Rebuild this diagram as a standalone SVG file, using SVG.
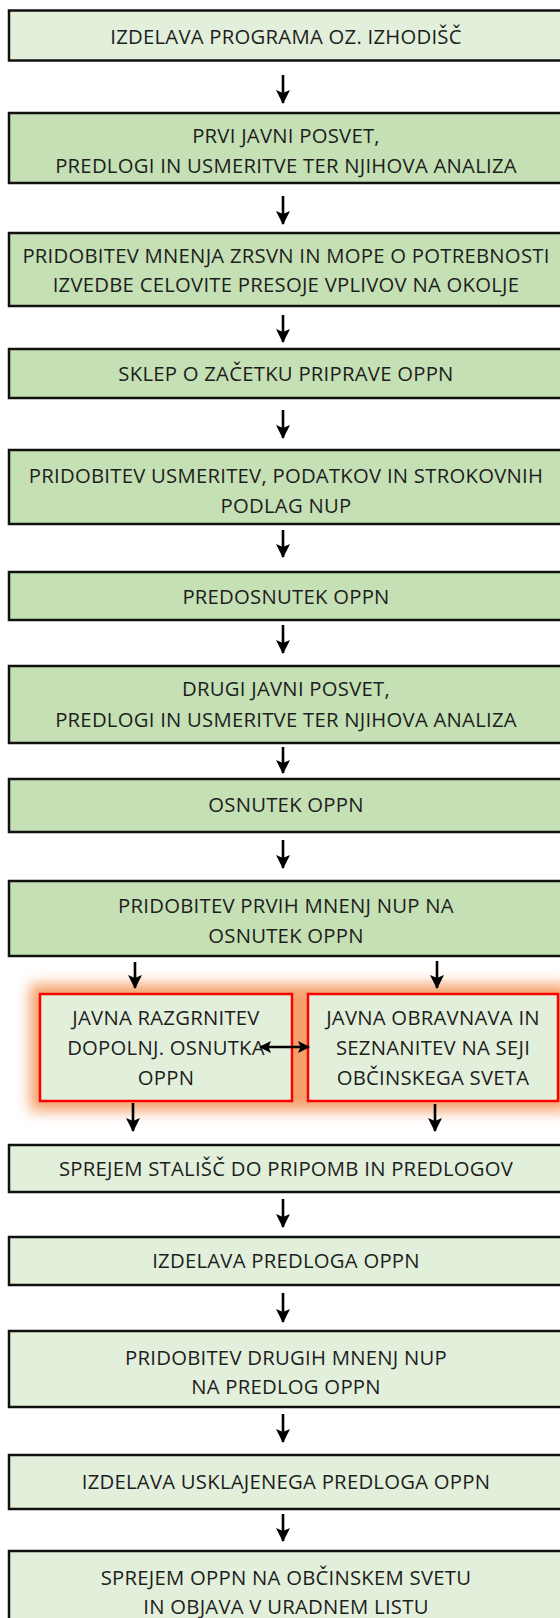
<svg xmlns="http://www.w3.org/2000/svg" width="560" height="1618" viewBox="0 0 560 1618">
<style>
.box{stroke:#111;stroke-width:2.5}
.lt{fill:#e2efda}
.dk{fill:#c5e0b4}
.red{fill:#e2efda;stroke:#ff0000;stroke-width:2.5}
text{font-family:"Open Sans","Noto Sans",sans-serif;font-size:20.3px;letter-spacing:0.25px;fill:#1e1e1e;text-anchor:middle;dominant-baseline:central}
.ar{stroke:#000;stroke-width:2.6;fill:none}
.ar2{stroke:#000;stroke-width:2.6;fill:none}
</style>
<defs>
<marker id="ah" viewBox="0 0 14 14" refX="13" refY="7" markerWidth="14" markerHeight="14" orient="auto-start-reverse" markerUnits="userSpaceOnUse">
<path d="M0,0 L14,7 L0,14 L3,7 Z" fill="#000"/>
</marker>
<marker id="ah2" viewBox="0 0 12 12" refX="11" refY="6" markerWidth="13" markerHeight="12" orient="auto-start-reverse" markerUnits="userSpaceOnUse">
<path d="M0,0 L12,6 L0,12 L2.5,6 Z" fill="#000"/>
</marker>
<filter id="glow" x="-30%" y="-60%" width="160%" height="220%">
<feGaussianBlur stdDeviation="7"/>
</filter>
</defs>
<rect width="560" height="1618" fill="#fff"/>
<g id="glowbg" filter="url(#glow)">
<rect x="30" y="984" width="272" height="127" fill="#f4a06a"/>
<rect x="298" y="984" width="272" height="127" fill="#f4a06a"/>
</g>
<g id="n1"><rect class="box lt" x="9" y="10.5" width="556" height="50"/><text x="286" y="36">IZDELAVA PROGRAMA OZ. IZHODIŠČ</text></g>
<g id="n2"><rect class="box dk" x="9" y="113" width="556" height="70"/><text x="286" y="135">PRVI JAVNI POSVET,</text><text x="286" y="165">PREDLOGI IN USMERITVE TER NJIHOVA ANALIZA</text></g>
<g id="n3"><rect class="box dk" x="9" y="233" width="556" height="73"/><text x="286" y="255">PRIDOBITEV MNENJA ZRSVN IN MOPE O POTREBNOSTI</text><text x="286" y="284">IZVEDBE CELOVITE PRESOJE VPLIVOV NA OKOLJE</text></g>
<g id="n4"><rect class="box dk" x="9" y="349" width="556" height="49"/><text x="286" y="373">SKLEP O ZAČETKU PRIPRAVE OPPN</text></g>
<g id="n5"><rect class="box dk" x="9" y="450" width="556" height="74"/><text x="286" y="475">PRIDOBITEV USMERITEV, PODATKOV IN STROKOVNIH</text><text x="286" y="505">PODLAG NUP</text></g>
<g id="n6"><rect class="box dk" x="9" y="572" width="556" height="48"/><text x="286" y="596">PREDOSNUTEK OPPN</text></g>
<g id="n7"><rect class="box dk" x="9" y="666" width="556" height="77"/><text x="286" y="688">DRUGI JAVNI POSVET,</text><text x="286" y="719">PREDLOGI IN USMERITVE TER NJIHOVA ANALIZA</text></g>
<g id="n8"><rect class="box dk" x="9" y="779" width="556" height="53"/><text x="286" y="804">OSNUTEK OPPN</text></g>
<g id="n9"><rect class="box dk" x="9" y="881" width="556" height="75"/><text x="286" y="905">PRIDOBITEV PRVIH MNENJ NUP NA</text><text x="286" y="935">OSNUTEK OPPN</text></g>
<g id="n10"><rect class="red" x="40" y="994" width="252" height="107"/><text x="166" y="1017">JAVNA RAZGRNITEV</text><text x="166" y="1047">DOPOLNJ. OSNUTKA</text><text x="166" y="1077">OPPN</text></g>
<g id="n11"><rect class="red" x="308" y="994" width="250" height="107"/><text x="433" y="1017">JAVNA OBRAVNAVA IN</text><text x="433" y="1047">SEZNANITEV NA SEJI</text><text x="433" y="1077">OBČINSKEGA SVETA</text></g>
<g id="n12"><rect class="box lt" x="9" y="1145" width="556" height="47"/><text x="286" y="1168">SPREJEM STALIŠČ DO PRIPOMB IN PREDLOGOV</text></g>
<g id="n13"><rect class="box lt" x="9" y="1237" width="556" height="48"/><text x="286" y="1260">IZDELAVA PREDLOGA OPPN</text></g>
<g id="n14"><rect class="box lt" x="9" y="1331" width="556" height="76"/><text x="286" y="1357">PRIDOBITEV DRUGIH MNENJ NUP</text><text x="286" y="1386">NA PREDLOG OPPN</text></g>
<g id="n15"><rect class="box lt" x="9" y="1455" width="556" height="54"/><text x="286" y="1481">IZDELAVA USKLAJENEGA PREDLOGA OPPN</text></g>
<g id="n16"><rect class="box lt" x="9" y="1551" width="556" height="80"/><text x="286" y="1577">SPREJEM OPPN NA OBČINSKEM SVETU</text><text x="286" y="1606">IN OBJAVA V URADNEM LISTU</text></g>
<g id="connectors">
<line class="ar" x1="283" y1="75" x2="283" y2="103" marker-end="url(#ah)"/>
<line class="ar" x1="283" y1="196" x2="283" y2="224" marker-end="url(#ah)"/>
<line class="ar" x1="283" y1="315" x2="283" y2="342" marker-end="url(#ah)"/>
<line class="ar" x1="283" y1="410" x2="283" y2="438" marker-end="url(#ah)"/>
<line class="ar" x1="283" y1="530" x2="283" y2="557" marker-end="url(#ah)"/>
<line class="ar" x1="283" y1="625" x2="283" y2="653" marker-end="url(#ah)"/>
<line class="ar" x1="283" y1="747" x2="283" y2="773" marker-end="url(#ah)"/>
<line class="ar" x1="283" y1="840" x2="283" y2="868" marker-end="url(#ah)"/>
<line class="ar" x1="135" y1="962" x2="135" y2="988" marker-end="url(#ah)"/>
<line class="ar" x1="437" y1="961" x2="437" y2="988" marker-end="url(#ah)"/>
<line class="ar2" x1="260" y1="1047" x2="309" y2="1047" marker-start="url(#ah2)" marker-end="url(#ah2)"/>
<line class="ar" x1="133" y1="1103" x2="133" y2="1131" marker-end="url(#ah)"/>
<line class="ar" x1="435" y1="1104" x2="435" y2="1131" marker-end="url(#ah)"/>
<line class="ar" x1="283" y1="1199" x2="283" y2="1227" marker-end="url(#ah)"/>
<line class="ar" x1="283" y1="1293" x2="283" y2="1322" marker-end="url(#ah)"/>
<line class="ar" x1="283" y1="1414" x2="283" y2="1442" marker-end="url(#ah)"/>
<line class="ar" x1="283" y1="1514" x2="283" y2="1541" marker-end="url(#ah)"/>
</g>
</svg>
